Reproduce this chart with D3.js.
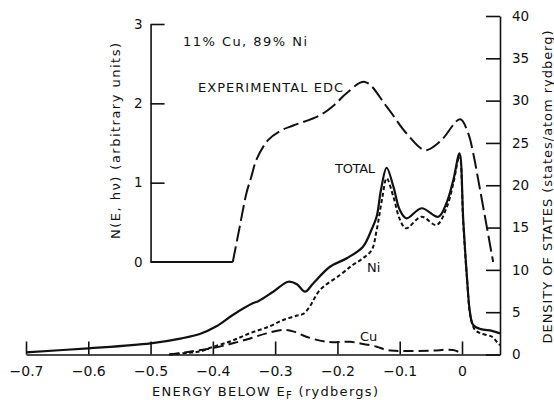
<!DOCTYPE html>
<html><head><meta charset="utf-8">
<script src="https://cdn.jsdelivr.net/npm/d3@7"></script>
<style>
body{margin:0;background:#fff}
svg{display:block}
text{font-family:"DejaVu Sans",sans-serif;fill:#111}
</style>
</head><body>
<svg id="c" width="554" height="400"></svg>
<script>
// ---- data ----
const energyTicks = [-0.7, -0.6, -0.5, -0.4, -0.3, -0.2, -0.1, 0];
const energyTickLabels = ["−0.7", "−0.6", "−0.5", "−0.4", "−0.3", "−0.2", "−0.1", "0"];
const dosTicks = [0, 5, 10, 15, 20, 25, 30, 35, 40];
const edcTicks = [0, 1, 2, 3];

const totalE =   [-0.7, -0.6, -0.5, -0.45, -0.42, -0.395, -0.368, -0.336, -0.327, -0.303, -0.279, -0.265, -0.252, -0.239, -0.212, -0.185, -0.159, -0.145, -0.137, -0.13, -0.121, -0.11, -0.1, -0.089, -0.065, -0.038, -0.025, -0.014, -0.004, 0.002, 0.0075, 0.013, 0.018, 0.03, 0.048, 0.061];
const totalDOS = [0.26, 0.73, 1.32, 1.91, 2.45, 3.3, 4.67, 6.05, 6.3, 7.42, 8.6, 8.3, 7.42, 8.4, 10.37, 11.37, 12.74, 14.8, 16.3, 19.5, 22.07, 19.8, 17.1, 16.09, 17.28, 16.28, 17.87, 20.6, 23.78, 15.9, 9.6, 4.87, 3.49, 3.0, 2.8, 2.5];

const niE =   [-0.47, -0.44, -0.421, -0.4, -0.37, -0.341, -0.31, -0.287, -0.265, -0.255, -0.245, -0.228, -0.196, -0.175, -0.159, -0.145, -0.137, -0.128, -0.121, -0.11, -0.1, -0.09, -0.065, -0.041, -0.025, -0.014, -0.004, 0.002, 0.008, 0.014, 0.021, 0.03, 0.048, 0.057, 0.061];
const niDOS = [0, 0.2, 0.35, 0.9, 1.6, 2.5, 3.3, 4.08, 4.6, 4.79, 5.6, 7.62, 9.39, 10.6, 11.37, 12.35, 14.71, 18.5, 20.82, 18.6, 16.0, 14.91, 16.28, 15.3, 17.3, 20.2, 23.5, 15.5, 9.0, 4.3, 2.9, 2.5, 2.1, 1.4, 1.1];

const cuE =   [-0.47, -0.44, -0.4, -0.368, -0.34, -0.314, -0.287, -0.27, -0.25, -0.218, -0.18, -0.164, -0.137, -0.121, -0.1, -0.05, -0.014, 0.0];
const cuDOS = [0, 0.3, 0.77, 1.32, 1.9, 2.5, 2.9, 2.7, 2.1, 1.5, 1.5, 1.32, 0.92, 0.53, 0.41, 0.45, 0.53, 0.1];

const edcE = [-0.5, -0.368, -0.357, -0.346, -0.338, -0.33, -0.311, -0.29, -0.271, -0.228, -0.205, -0.185, -0.156, -0.121, -0.089, -0.059, -0.035, -0.003, 0.01, 0.018, 0.029, 0.05];
const edcN = [0, 0, 0.44, 0.87, 1.08, 1.29, 1.54, 1.66, 1.72, 1.85, 1.98, 2.13, 2.27, 1.96, 1.62, 1.41, 1.52, 1.80, 1.62, 1.37, 0.91, 0];

// ---- scales ----
const svg = d3.select("#c");
const x = d3.scaleLinear().domain([-0.7, 0.061]).range([26, 500]);
const yDos = d3.scaleLinear().domain([0, 40]).range([354.5, 16]);
const yEdc = d3.scaleLinear().domain([0, 3]).range([262, 24]);

// ---- axes ----
const gx = svg.append("g").attr("transform", `translate(0,${yDos(0)})`)
  .call(d3.axisBottom(x).tickValues(energyTicks)
    .tickFormat((d, i) => energyTickLabels[i]).tickSizeInner(-13).tickSizeOuter(0).tickPadding(12));
gx.selectAll("text").style("font-size", "14px");

const gr = svg.append("g").attr("transform", `translate(${x.range()[1]},0)`)
  .call(d3.axisRight(yDos).tickValues(dosTicks).tickFormat(d3.format("d"))
    .tickSizeInner(-14).tickSizeOuter(0).tickPadding(12));
gr.selectAll("text").style("font-size", "13.5px");

const gl = svg.append("g").attr("transform", `translate(${x(-0.5)},0)`)
  .call(d3.axisLeft(yEdc).tickValues(edcTicks).tickFormat(d3.format("d"))
    .tickSizeInner(-14).tickSizeOuter(0).tickPadding(8));
gl.selectAll("text").style("font-size", "13.5px");
gl.selectAll(".tick").filter(d => d === 0).select("line").remove();

[gx, gr, gl].forEach(g => {
  g.selectAll("path,line").attr("stroke", "#111").attr("stroke-width", 1.6);
  g.selectAll("text").attr("fill", "#111").style("font-family", "'DejaVu Sans',sans-serif");
});

// ---- curves ----
const curve = d3.curveCatmullRom.alpha(0.5);
const lineDos = d3.line().x(d => x(d[0])).y(d => yDos(d[1])).curve(curve);
const lineEdc = d3.line().x(d => x(d[0])).y(d => yEdc(d[1])).curve(curve);

const total = d3.zip(totalE, totalDOS);
const ni = d3.zip(niE, niDOS);
const cu = d3.zip(cuE, cuDOS);
const edc = d3.zip(edcE, edcN);

svg.append("path").attr("d", lineDos(total)).attr("fill", "none")
  .attr("stroke", "#111").attr("stroke-width", 2.2);
svg.append("path").attr("d", lineDos(ni)).attr("fill", "none")
  .attr("stroke", "#111").attr("stroke-width", 2).attr("stroke-dasharray", "4,2.6");
svg.append("path").attr("d", lineDos(cu)).attr("fill", "none")
  .attr("stroke", "#111").attr("stroke-width", 2).attr("stroke-dasharray", "10,5");
// EDC: flat solid part then long dashes
svg.append("path").attr("d", d3.line().x(d => x(d[0])).y(d => yEdc(d[1]))(edc.slice(0, 2)))
  .attr("fill", "none").attr("stroke", "#111").attr("stroke-width", 1.8);
svg.append("path").attr("d", lineEdc(edc.slice(1))).attr("fill", "none")
  .attr("stroke", "#111").attr("stroke-width", 2).attr("stroke-dasharray", "16,5");

// ---- texts ----
function txt(str, xx, yy, size, len, anchor) {
  const t = svg.append("text").attr("x", xx).attr("y", yy)
    .style("font-size", size + "px").attr("text-anchor", anchor || "start").text(str);
  if (len) t.attr("textLength", len).attr("lengthAdjust", "spacing");
  return t;
}
txt("11% Cu, 89% Ni", 183, 46, 13, 124);
txt("EXPERIMENTAL EDC", 198, 92, 13, 145);
txt("TOTAL", 335, 173, 13, 40);
txt("Ni", 367, 272, 13);
txt("Cu", 360, 341, 13);

// x title
const xt = svg.append("text").attr("x", 152).attr("y", 396).style("font-size", "13px")
  .attr("textLength", 226).attr("lengthAdjust", "spacing");
xt.append("tspan").text("ENERGY BELOW E");
xt.append("tspan").attr("dy", 3).style("font-size", "10px").text("F");
xt.append("tspan").attr("dy", -3).text(" (rydbergs)");

// left title
svg.append("text").attr("transform", "translate(120,141) rotate(-90)")
  .attr("text-anchor", "middle").style("font-size", "13px")
  .attr("textLength", 196).attr("lengthAdjust", "spacing")
  .text("N(E, hν) (arbitrary units)");

// right title
svg.append("text").attr("transform", "translate(552,187) rotate(-90)")
  .attr("text-anchor", "middle").style("font-size", "13px")
  .attr("textLength", 313).attr("lengthAdjust", "spacing")
  .text("DENSITY OF STATES (states/atom rydberg)");
</script>
</body></html>
